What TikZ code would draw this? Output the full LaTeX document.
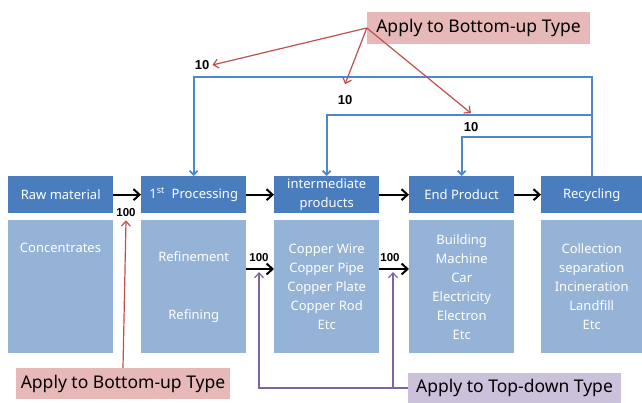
\documentclass[tikz,border=0pt]{standalone}
\usepackage{fontspec}
\setmainfont{Noto Sans}
\newfontfamily\numfont{Liberation Sans}
\usetikzlibrary{arrows.meta}
\definecolor{hdrblue}{HTML}{4A7DBE}
\definecolor{bodyblue}{HTML}{95B3D7}
\definecolor{fbblue}{HTML}{4F86CC}
\definecolor{bured}{HTML}{C0504D}
\definecolor{bufill}{HTML}{E6B9B8}
\definecolor{tdline}{HTML}{8064A2}
\definecolor{tdfill}{HTML}{CCC1DA}

\begin{document}
\begin{tikzpicture}
[
x=1pt,y=-1pt,
hdr/.style={fill=hdrblue,text=white,anchor=north west,inner sep=0pt,
            minimum width=105pt,minimum height=37pt,align=center,
            font=\fontsize{13}{19}\selectfont},
body/.style={fill=bodyblue,text=white,anchor=north west,inner sep=0pt,
            minimum width=105pt,minimum height=133pt,align=center,
            font=\fontsize{13}{19}\selectfont},
flow/.style={-{Straight Barb[length=6pt,width=11pt]},line width=2pt},
fb/.style={-{Straight Barb[length=4pt,width=8pt]},line width=1.8pt,fbblue},
redarr/.style={-{Straight Barb[length=5pt,width=9pt]},line width=1.2pt,bured},
tdarr/.style={-{Straight Barb[length=5pt,width=9pt]},line width=1.2pt,tdline},
note/.style={inner sep=0pt,font=\fontsize{17.5}{20}\selectfont},
num/.style={inner sep=1pt,font=\numfont\bfseries\fontsize{#1}{#1}\selectfont},
]
\useasboundingbox[fill=white] (0,0) rectangle (642,403);

%Place the stage headers
\node[hdr] (raw) at (8,176) {Raw material};
\node[hdr] (proc) at (141,176) {1\textsuperscript{st}~~Processing};
\node[hdr] (inter) at (274,176) {intermediate\\products};
\node[hdr] (endp) at (409,176) {End Product};
\node[hdr,minimum width=101pt] (recyc) at (541,176) {Recycling};
%Place the stage contents
\node[body] (rawb) at (8,220) {};
\node[text=white,font=\fontsize{13}{19}\selectfont] (conc) at (60.5,248) {Concentrates};
\node[body] (procb) at (141,220) {Refinement\\[39pt]Refining};
\node[body] (interb) at (274,220) {Copper Wire\\Copper Pipe\\Copper Plate\\Copper Rod\\Etc};
\node[body] (endpb) at (409,220) {Building\\Machine\\Car\\Electricity\\Electron\\Etc};
\node[body,minimum width=101pt] (recycb) at (541,220) {Collection\\separation\\Incineration\\Landfill\\Etc};

%Flow amounts
\node[num=11.5] (n100a) at (126,213) {100};
\node[num=11.5] (n100b) at (259,258) {100};
\node[num=11.5] (n100c) at (390,258) {100};
\node[num=13] (ten1) at (202,65) {10};
\node[num=13] (ten2) at (345,100) {10};
\node[num=13] (ten3) at (471,127) {10};

%Notes
\node[note,fill=bufill,minimum width=223pt,minimum height=32pt] (butop) at (478.5,28) {Apply to Bottom-up Type};
\node[note,fill=bufill,minimum width=214pt,minimum height=31pt] (bubot) at (123,383.5) {Apply to Bottom-up Type};
\node[note,fill=tdfill,minimum width=213pt,minimum height=30pt] (td) at (514.5,388) {Apply to Top-down Type};

\coordinate (fb1) at (0,77);
\coordinate (fb2) at (0,115);
\coordinate (fb3) at (0,137);
\coordinate (mid) at (0,269);
\coordinate (tdl) at (259,272);
\coordinate (tdr) at (393,272);

%Draw the main flow
\draw[flow] (raw) -- (proc);
\draw[flow] (proc) -- (inter);
\draw[flow] (inter) -- (endp);
\draw[flow] (endp) -- (recyc);
\draw[flow] (procb.east |- mid) -- (interb.west |- mid);
\draw[flow] (interb.east |- mid) -- (endpb.west |- mid);
%Draw the recycling loops
\draw[fb] (recyc.north) |- (proc.north |- fb1) -- (proc.north);
\draw[fb] (recyc.north |- fb2) -- (inter.north |- fb2) -- (inter.north);
\draw[fb] (recyc.north |- fb3) -- (endp.north |- fb3) -- (endp.north);
%Draw the notes' pointers
\draw[redarr] (butop.west) -- ([xshift=2pt]ten1.east);
\draw[redarr] (butop.west) -- ([yshift=10pt]ten2.north);
\draw[redarr] (butop.west) -- ([yshift=8pt]ten3.north);
\draw[redarr] (bubot.north) -- ([yshift=-2pt]n100a.south);
\draw[tdarr] (td.west) -| (tdr);
\draw[tdarr] (tdr |- td.west) -| (tdl);
\end{tikzpicture}
\end{document}
